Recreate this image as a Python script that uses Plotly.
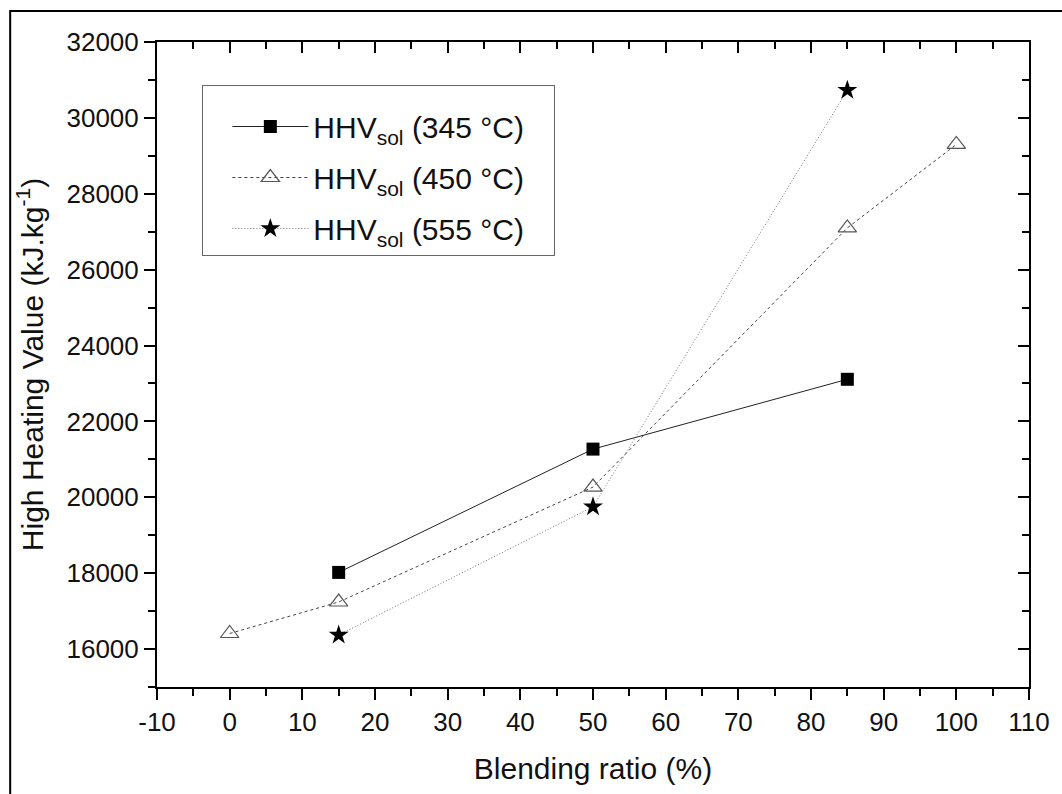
import plotly.graph_objects as go

x_345 = [15, 50, 85]
y_345 = [18020, 21270, 23110]
x_450 = [0, 15, 50, 85, 100]
y_450 = [16410, 17240, 20270, 27100, 29300]
x_555 = [15, 50, 85]
y_555 = [16370, 19750, 30730]

x_ticks = [-10, 0, 10, 20, 30, 40, 50, 60, 70, 80, 90, 100, 110]
x_ticklabels = ["-10", "0", "10", "20", "30", "40", "50", "60", "70", "80", "90", "100", "110"]
y_ticks = [16000, 18000, 20000, 22000, 24000, 26000, 28000, 30000, 32000]
y_ticklabels = ["16000", "18000", "20000", "22000", "24000", "26000", "28000", "30000", "32000"]

PAD = "\u00a0\u00a0\u00a0"
names = ["HHV<sub>sol</sub> (345 °C)", "HHV<sub>sol</sub> (450 °C)", "HHV<sub>sol</sub> (555 °C)"]

FONT = "Liberation Sans, Arial, sans-serif"

fig = go.Figure()
fig.add_trace(go.Scatter(x=x_345, y=y_345, mode="lines+markers", name=names[0] + PAD,
                         legendgroup="a",
                         line=dict(color="#222", width=1),
                         marker=dict(symbol="square", size=13, color="black")))
fig.add_trace(go.Scatter(x=x_450, y=y_450, mode="lines+markers", name=names[1] + PAD,
                         legendgroup="b",
                         line=dict(color="#444", width=1, dash="3px,3px"),
                         marker=dict(symbol="triangle-up-open", size=16, color="#555",
                                     line=dict(width=1.2))))
fig.add_trace(go.Scatter(x=x_555, y=y_555, mode="lines+markers", name=names[2] + PAD,
                         legendgroup="c",
                         line=dict(color="#777", width=1, dash="1px,2px"),
                         marker=dict(symbol="star", size=15, color="black")))
# dummy trace to anchor the mirrored inside-tick axes
fig.add_trace(go.Scatter(x=[], y=[], xaxis="x2", yaxis="y2", showlegend=False))

xr = [-10, 110]
yr = [15000, 32000]
axis_common = dict(showgrid=False, zeroline=False, linecolor="black", linewidth=2)

fig.update_layout(
    width=1062, height=794,
    margin=dict(l=157, r=26, t=42, b=107),
    paper_bgcolor="white", plot_bgcolor="white",
    font=dict(family=FONT, color="#111"),
    xaxis=dict(range=xr, tickmode="array", tickvals=x_ticks, ticktext=x_ticklabels,
               ticks="outside", ticklen=11, tickwidth=2,
               tickcolor="black", mirror=True, showline=True,
               tickfont=dict(size=26, family=FONT),
               minor=dict(dtick=5, tick0=0, ticks="outside", ticklen=7, tickwidth=2, tickcolor="black"),
               title=dict(text="Blending ratio (%)", font=dict(size=30, family=FONT), standoff=22),
               **axis_common),
    yaxis=dict(range=yr, tickmode="array", tickvals=y_ticks, ticktext=y_ticklabels,
               ticks="outside", ticklen=11, tickwidth=2,
               tickcolor="black", mirror=True, showline=True,
               tickfont=dict(size=26, family=FONT),
               minor=dict(dtick=1000, tick0=0, ticks="outside", ticklen=7, tickwidth=2, tickcolor="black"),
               title=dict(text="High Heating Value (kJ.kg<sup>-1</sup>)", font=dict(size=30, family=FONT), standoff=14),
               **axis_common),
    xaxis2=dict(range=xr, overlaying="x", side="top", anchor="y2", dtick=10, tick0=0,
                ticks="inside", ticklen=11, tickwidth=2, tickcolor="black",
                showticklabels=False, showline=False, showgrid=False, zeroline=False,
                minor=dict(dtick=5, ticks="inside", ticklen=7, tickwidth=2, tickcolor="black")),
    yaxis2=dict(range=yr, overlaying="y", side="right", anchor="x2", dtick=2000, tick0=0,
                ticks="inside", ticklen=11, tickwidth=2, tickcolor="black",
                showticklabels=False, showline=False, showgrid=False, zeroline=False,
                minor=dict(dtick=1000, ticks="inside", ticklen=7, tickwidth=2, tickcolor="black")),
    legend=dict(x=0.052, y=0.933, xanchor="left", yanchor="top",
                bordercolor="#666", borderwidth=1, bgcolor="white",
                font=dict(size=30, family=FONT, color="#111"),
                title=dict(text=" ", font=dict(size=11)),
                itemwidth=76, indentation=24,
                traceorder="grouped", tracegroupgap=9),
    showlegend=True,
)

# outer frame (top and left edges visible)
fig.add_shape(type="rect", xref="paper", yref="paper",
              x0=-157/879 + 9/879, x1=1.5, y0=-0.5, y1=1 + (42-11)/645,
              line=dict(color="black", width=2), fillcolor="rgba(0,0,0,0)", layer="above")

fig.write_html("out.html")
